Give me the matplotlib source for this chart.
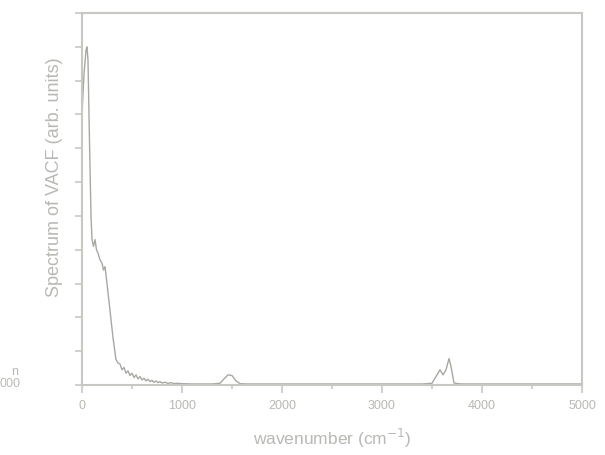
import matplotlib
matplotlib.use("Agg")
import matplotlib.pyplot as plt
from matplotlib.ticker import MultipleLocator

plt.rcParams['font.family'] = ['Liberation Sans', 'DejaVu Sans']

wavenumber = [0, 20, 40, 50, 60, 75, 90, 100, 115, 130, 145, 160, 180, 200, 215, 230, 250,
              280, 310, 340, 360, 380, 400, 420, 440, 460, 480, 500, 520, 540, 560, 580,
              600, 620, 640, 660, 680, 700, 720, 740, 760, 780, 800, 830, 860, 890, 920,
              950, 1000, 1100, 1200, 1300, 1380, 1420, 1460, 1500, 1540, 1580, 1650,
              1800, 2000, 2200, 2400, 2600, 2800, 3000, 3200, 3400, 3500, 3540, 3580,
              3610, 3640, 3670, 3690, 3720, 3760, 3800, 4000, 4200, 4400, 4600, 4800, 5000]
spectrum = [8.0, 9.2, 9.9, 10.0, 9.6, 7.2, 5.0, 4.3, 4.1, 4.3, 4.0, 3.9, 3.7, 3.6, 3.4, 3.5, 3.0,
            2.2, 1.4, 0.75, 0.65, 0.62, 0.45, 0.52, 0.35, 0.42, 0.28, 0.35, 0.22, 0.3, 0.18, 0.25,
            0.15, 0.2, 0.12, 0.17, 0.1, 0.14, 0.08, 0.12, 0.07, 0.1, 0.06, 0.08, 0.05, 0.07, 0.04,
            0.05, 0.04, 0.03, 0.03, 0.03, 0.05, 0.18, 0.3, 0.28, 0.12, 0.04, 0.03,
            0.03, 0.03, 0.03, 0.03, 0.03, 0.03, 0.03, 0.03, 0.03, 0.05, 0.25, 0.45,
            0.3, 0.45, 0.78, 0.55, 0.06, 0.04, 0.03, 0.03, 0.03, 0.03, 0.03, 0.03, 0.03]

xticks = [0, 1000, 2000, 3000, 4000, 5000]
xticklabels = ["0", "1000", "2000", "3000", "4000", "5000"]

gray_text = "#b8b8b4"
gray_axis = "#c8c8c2"
gray_line = "#a8a8a2"

fig = plt.figure(figsize=(6.05, 4.56), dpi=100)
ax = fig.add_axes([82/605, 70/456, 500/605, 372/456])
ax.plot(wavenumber, spectrum, color=gray_line, lw=1.0)
ax.set_xlim(0, 5000)
ax.set_ylim(0, 11)
ax.set_xticks(xticks)
ax.set_xticklabels(xticklabels)
ax.xaxis.set_minor_locator(MultipleLocator(500))
ax.yaxis.set_major_locator(MultipleLocator(1))
ax.set_yticklabels([])
for s in ax.spines.values():
    s.set_color(gray_axis)
    s.set_linewidth(1.5)
ax.tick_params(axis='both', which='both', color=gray_axis, width=1.2, labelcolor=gray_text, labelsize=9)
ax.tick_params(axis='x', which='major', length=6, pad=4)
ax.tick_params(axis='x', which='minor', length=3)
ax.tick_params(axis='y', which='major', length=5)
ax.set_xlabel("wavenumber (cm$^{-1}$)", color=gray_text, fontsize=12.5)
ax.xaxis.set_label_coords(0.5, -0.11)
ax.set_ylabel("Spectrum of VACF (arb. units)", color=gray_text, fontsize=13)
ax.yaxis.set_label_coords(-0.038, 0.56)

fig.text(18/605, 1 - 372/456, "n", color=gray_text, fontsize=9, ha='right', va='center')
fig.text(20/605, 1 - 384/456, "000", color=gray_text, fontsize=9, ha='right', va='center')

fig.savefig("out.png", dpi=100)
